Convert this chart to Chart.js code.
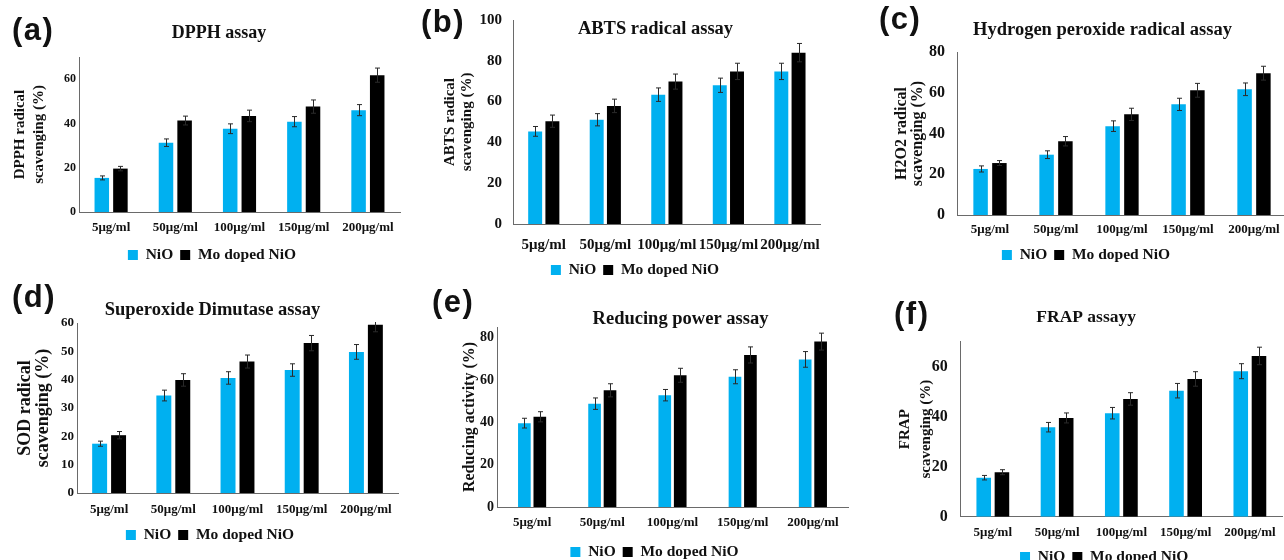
<!DOCTYPE html>
<html>
<head>
<meta charset="utf-8">
<script src="https://cdn.jsdelivr.net/npm/chart.js@4.4.0/dist/chart.umd.min.js"></script>
<style>
  html, body { margin: 0; padding: 0; background: #fff; }
  body { width: 1284px; height: 560px; position: relative; overflow: hidden; }
  canvas { position: absolute; }
  .tag { position: absolute; font-family: 'Liberation Sans', Arial, sans-serif; font-weight: bold; font-size: 31px; line-height: 31px; letter-spacing: 1.5px; color: #111; }
</style>
</head>
<body>
<canvas id="chart-a"></canvas>
<canvas id="chart-b"></canvas>
<canvas id="chart-c"></canvas>
<canvas id="chart-d"></canvas>
<canvas id="chart-e"></canvas>
<canvas id="chart-f"></canvas>
<div class="tag" style="left:12px;top:14px">(a)</div>
<div class="tag" style="left:421px;top:6px">(b)</div>
<div class="tag" style="left:879px;top:3px">(c)</div>
<div class="tag" style="left:12px;top:281px">(d)</div>
<div class="tag" style="left:432px;top:286px">(e)</div>
<div class="tag" style="left:894px;top:298px">(f)</div>
<script>
// categories + series names
const categories = ['5μg/ml', '50μg/ml', '100μg/ml', '150μg/ml', '200μg/ml'];
const seriesNames = ['NiO', 'Mo doped NiO'];

// (a) DPPH
const dpphNiO = [15.4, 31.3, 37.6, 40.8, 46.0];
const dpphMo = [19.6, 41.3, 43.4, 47.6, 61.8];
const dpphNiOErr = [0.9, 1.7, 2.2, 2.3, 2.5];
const dpphMoErr = [1.0, 2.0, 2.6, 3.0, 3.2];
const dpphTicks = [0, 20, 40, 60];

// (b) ABTS
const abtsNiO = [45.4, 51.1, 63.4, 68.0, 74.8];
const abtsMo = [50.4, 57.9, 69.8, 74.8, 84.0];
const abtsNiOErr = [2.4, 3.0, 3.3, 3.5, 4.0];
const abtsMoErr = [3.0, 3.3, 3.7, 4.0, 4.5];
const abtsTicks = [0, 20, 40, 60, 80, 100];

// (c) H2O2
const h2o2NiO = [22.6, 29.6, 43.6, 54.3, 61.7];
const h2o2Mo = [25.5, 36.2, 49.4, 61.2, 69.6];
const h2o2NiOErr = [1.5, 1.9, 2.6, 3.0, 3.1];
const h2o2MoErr = [1.2, 2.3, 3.0, 3.4, 3.4];
const h2o2Ticks = [0, 20, 40, 60, 80];

// (d) SOD
const sodNiO = [17.4, 34.4, 40.6, 43.4, 49.8];
const sodMo = [20.4, 39.9, 46.4, 52.9, 59.4];
const sodNiOErr = [0.9, 1.9, 2.2, 2.2, 2.6];
const sodMoErr = [1.3, 2.2, 2.3, 2.7, 2.5];
const sodTicks = [0, 10, 20, 30, 40, 50, 60];

// (e) reducing power
const reducingNiO = [39.6, 48.8, 52.8, 61.5, 69.7];
const reducingMo = [42.6, 55.1, 62.2, 71.8, 78.1];
const reducingNiOErr = [2.3, 2.7, 2.7, 3.3, 3.7];
const reducingMoErr = [2.4, 3.1, 3.3, 3.8, 4.0];
const reducingTicks = [0, 20, 40, 60, 80];

// (f) FRAP
const frapNiO = [15.6, 35.8, 41.4, 50.4, 58.2];
const frapMo = [17.8, 39.5, 47.1, 55.1, 64.3];
const frapNiOErr = [0.9, 1.9, 2.3, 2.9, 3.0];
const frapMoErr = [1.0, 2.0, 2.5, 2.9, 3.5];
const frapTicks = [0, 20, 40, 60];

const nioColor = '#00b0f0';
const moColor = '#000000';
const axisColor = '#6a6a6a';
const textColor = '#111111';

Chart.defaults.font.family = "'Liberation Serif', 'Times New Roman', serif";
Chart.defaults.color = textColor;

// error bars, placed with the chart's own y scale
const errorBarPlugin = {
    id: 'errorBars',
    afterDatasetsDraw(chart) {
        const ctx = chart.ctx;
        const yScale = chart.scales.y;
        const area = chart.chartArea;
        ctx.save();
        ctx.beginPath();
        ctx.rect(area.left, area.top - 1, area.right - area.left, area.bottom - area.top + 1);
        ctx.clip();
        ctx.strokeStyle = '#2a2a2a';
        ctx.lineWidth = 1;
        chart.data.datasets.forEach((ds, i) => {
            const meta = chart.getDatasetMeta(i);
            meta.data.forEach((bar, j) => {
                const v = ds.data[j];
                const e = ds.errors[j];
                const yTop = yScale.getPixelForValue(v + e);
                const yBot = yScale.getPixelForValue(v - e);
                const x = Math.round(bar.x) + 0.5;
                ctx.beginPath();
                ctx.moveTo(x, yTop); ctx.lineTo(x, yBot);
                ctx.moveTo(x - 2.5, yTop); ctx.lineTo(x + 2.5, yTop);
                ctx.moveTo(x - 2.5, yBot); ctx.lineTo(x + 2.5, yBot);
                ctx.stroke();
            });
        });
        ctx.restore();
    }
};

// Excel centres title and legend a little differently, nudge them sideways
const blockShiftPlugin = {
    id: 'blockShift',
    afterLayout(chart, args, opts) {
        const t = chart.titleBlock;
        const l = chart.legend;
        if (t) { t.left += opts.title || 0; t.right += opts.title || 0; }
        if (l) { l.left += opts.legend || 0; l.right += opts.legend || 0; }
    }
};

// padL sets title/legend centre, yW = gap from there to the y axis line
const panels = [
    { id: 'chart-a', x: 0, y: 0, w: 404, h: 273, padL: 24, padR: 4,
      title: 'DPPH assay', titleSize: 18, titlePt: 22.2, titlePb: 13.2, titleShift: 7, legendShift: 0,
      xSize: 13, xPad: 8.2, xH: 28.25,
      ySize: 12, yPad: 3, yW: 55, yTitle: ['DPPH radical', 'scavenging (%)'], yTitleSize: 15, yTitleLh: 1.27, yTitlePt: -13.5,
      max: 70, ticks: dpphTicks, nio: dpphNiO, mo: dpphMo, nioErr: dpphNiOErr, moErr: dpphMoErr, cp: 0.58, bp: 0.78 },
    { id: 'chart-b', x: 420, y: 0, w: 412, h: 288, padL: 42, padR: 4,
      title: 'ABTS radical assay', titleSize: 18.5, titlePt: 16.9, titlePb: -20.1, titleShift: 10.5, legendShift: -10,
      xSize: 15, xPad: 12, xH: 31.25,
      ySize: 15, yPad: 11, yW: 51, yTitle: ['ABTS radical', 'scavenging (%)'], yTitleSize: 15, yTitleLh: 1.1, yTitlePt: -19.75,
      max: 100, ticks: abtsTicks, nio: abtsNiO, mo: abtsMo, nioErr: abtsNiOErr, moErr: abtsMoErr, cp: 0.56, bp: 0.81 },
    { id: 'chart-c', x: 860, y: 0, w: 431, h: 273, padL: 43, padR: 4,
      title: 'Hydrogen peroxide radical assay', titleSize: 18.5, titlePt: 18.9, titlePb: 10.9, titleShift: 7.5, legendShift: -9,
      xSize: 13, xPad: 7.2, xH: 25.25,
      ySize: 16, yPad: 12, yW: 54, yTitle: ['H2O2 radical', 'scavenging (%)'], yTitleSize: 16, yTitleLh: 1.05, yTitlePt: -9.9,
      max: 80, ticks: h2o2Ticks, nio: h2o2NiO, mo: h2o2Mo, nioErr: h2o2NiOErr, moErr: h2o2MoErr, cp: 0.57, bp: 0.77 },
    { id: 'chart-d', x: 0, y: 280, w: 402, h: 273, padL: 24, padR: 4,
      title: 'Superoxide Dimutase assay', titleSize: 18.5, titlePt: 18.9, titlePb: 1.9, titleShift: 1.5, legendShift: -1,
      xSize: 13, xPad: 9.2, xH: 27.25,
      ySize: 13, yPad: 3, yW: 53, yTitle: ['SOD radical', 'scavenging (%)'], yTitleSize: 18, yTitleLh: 1.0, yTitlePt: -7.5,
      max: 60, ticks: sodTicks, nio: sodNiO, mo: sodMo, nioErr: sodNiOErr, moErr: sodMoErr, cp: 0.59, bp: 0.79 },
    { id: 'chart-e', x: 420, y: 280, w: 432, h: 290, padL: 55, padR: 4,
      title: 'Reducing power assay', titleSize: 18.5, titlePt: 27.9, titlePb: -3.1, titleShift: 19, legendShift: -7,
      xSize: 13, xPad: 8.2, xH: 30.25,
      ySize: 14, yPad: 3, yW: 22, yTitle: 'Reducing activity (%)', yTitleSize: 16, yTitleLh: 1.2, yTitlePt: -14.6,
      max: 85, ticks: reducingTicks, nio: reducingNiO, mo: reducingMo, nioErr: reducingNiOErr, moErr: reducingMoErr, cp: 0.44, bp: 0.82 },
    { id: 'chart-f', x: 860, y: 280, w: 425.7, h: 295, padL: 48.3, padR: 4,
      title: 'FRAP assayy', titleSize: 17.5, titlePt: 27, titlePb: 13.7, titleShift: -9, legendShift: 9,
      xSize: 13, xPad: 8.5, xH: 25.55,
      ySize: 16, yPad: 13, yW: 52.4, yTitle: ['FRAP', 'scavenging (%)'], yTitleSize: 15, yTitleLh: 1.4, yTitlePt: -13.8,
      max: 70, ticks: frapTicks, nio: frapNiO, mo: frapMo, nioErr: frapNiOErr, moErr: frapMoErr, cp: 0.567, bp: 0.8 }
];

function makePanel(p) {
    const canvas = document.getElementById(p.id);
    canvas.width = Math.round(p.w);
    canvas.height = p.h;
    canvas.style.left = p.x + 'px';
    canvas.style.top = p.y + 'px';

    return new Chart(canvas, {
        type: 'bar',
        data: {
            labels: categories,
            datasets: [
                { label: seriesNames[0], data: p.nio, errors: p.nioErr, backgroundColor: nioColor,
                  categoryPercentage: p.cp, barPercentage: p.bp },
                { label: seriesNames[1], data: p.mo, errors: p.moErr, backgroundColor: moColor,
                  categoryPercentage: p.cp, barPercentage: p.bp }
            ]
        },
        options: {
            responsive: false,
            animation: false,
            devicePixelRatio: 1,
            layout: { padding: { left: p.padL, right: p.padR, top: 0, bottom: 0.25 } },
            plugins: {
                title: {
                    display: true,
                    text: p.title,
                    color: textColor,
                    font: { size: p.titleSize, weight: 'bold', lineHeight: 1.2 },
                    padding: { top: p.titlePt, bottom: p.titlePb }
                },
                legend: {
                    position: 'bottom',
                    labels: {
                        boxWidth: 10,
                        boxHeight: 10,
                        padding: 7,
                        color: textColor,
                        font: { size: 15.5, weight: 'bold' }
                    }
                },
                tooltip: { enabled: false },
                blockShift: { title: p.titleShift, legend: p.legendShift }
            },
            scales: {
                x: {
                    grid: { display: false, drawTicks: false },
                    border: { color: axisColor, width: 1 },
                    ticks: { color: textColor, font: { size: p.xSize, weight: 'bold' }, padding: p.xPad, maxRotation: 0, autoSkip: false },
                    afterFit: (scale) => { scale.height = p.xH; }
                },
                y: {
                    min: 0,
                    max: p.max,
                    grid: { display: false, drawTicks: false },
                    border: { color: axisColor, width: 1 },
                    afterBuildTicks: (scale) => { scale.ticks = p.ticks.map(v => ({ value: v })); },
                    ticks: { color: textColor, font: { size: p.ySize, weight: 'bold' }, padding: p.yPad },
                    title: {
                        display: true,
                        text: p.yTitle,
                        color: textColor,
                        font: { size: p.yTitleSize, weight: 'bold', lineHeight: p.yTitleLh },
                        padding: { top: p.yTitlePt, bottom: 0 }
                    },
                    afterFit: (scale) => { scale.width = p.yW; }
                }
            }
        },
        plugins: [errorBarPlugin, blockShiftPlugin]
    });
}

panels.forEach(makePanel);
</script>
</body>
</html>
